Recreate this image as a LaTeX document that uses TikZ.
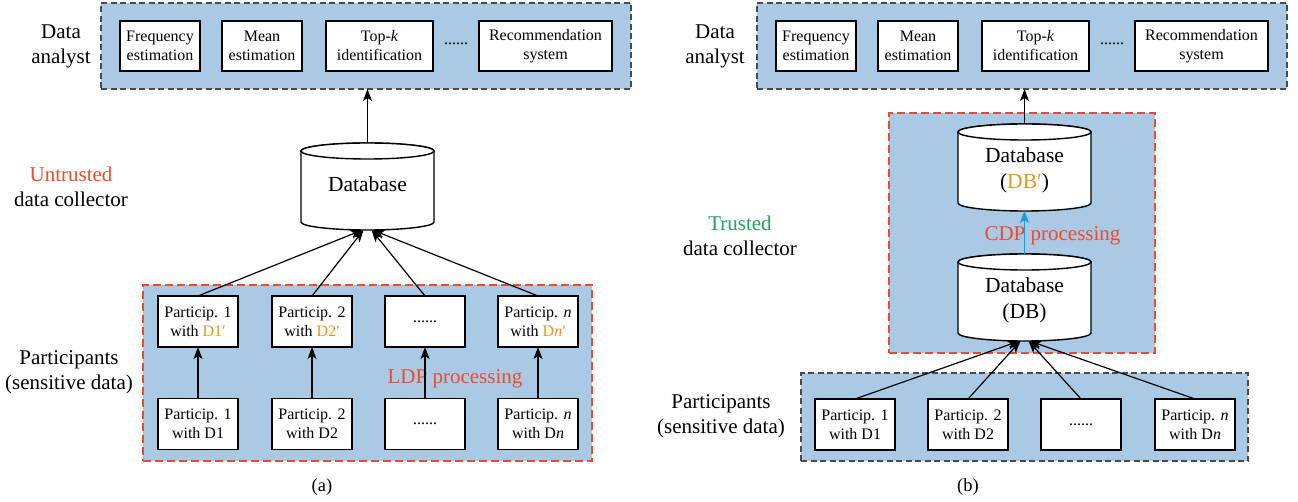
\documentclass[tikz,border=0pt]{standalone}
\usepackage{fontspec}
\setmainfont{Liberation Serif}
\usetikzlibrary{arrows.meta,calc}

\definecolor{panelblue}{HTML}{A9C9E4}
\definecolor{framered}{HTML}{F04A2E}
\definecolor{framegray}{HTML}{4A4A4A}
\definecolor{primegold}{HTML}{DE9A22}
\definecolor{trustgreen}{HTML}{1FA552}
\definecolor{cdpblue}{HTML}{1E9AD6}

\newcommand{\boxfont}{\fontsize{16}{19}\selectfont}
\newcommand{\labfont}{\fontsize{21}{25}\selectfont}

\begin{document}
\begin{tikzpicture}[x=1pt,y=-1pt,
  box/.style={draw=black, fill=white, line width=1.4pt, align=center,
    font=\boxfont, inner sep=0pt, outer sep=0pt},
  grayframe/.style={draw=framegray, fill=panelblue, line width=1.5pt,
    dash pattern=on 6pt off 3.5pt, inner sep=0pt, outer sep=0pt},
  redframe/.style={draw=framered, fill=panelblue, line width=2.8pt,
    dash pattern=on 8pt off 4pt, inner sep=0pt, outer sep=0pt},
  lbl/.style={align=center, font=\labfont, inner sep=0pt},
  dblbl/.style={align=center, font=\fontsize{21.5}{26}\selectfont, inner sep=0pt},
  arr/.style={-{Stealth[length=12pt,width=9pt,inset=3pt]}, line width=1.2pt},
  cyl/.style={draw=black, fill=white, line width=1.4pt},
  anchorbox/.style={inner sep=0pt, outer sep=0pt, minimum width=133pt, minimum height=87pt}
]
\useasboundingbox (0,0) rectangle (1298,502);

% ---------------- (a) local differential privacy ----------------
\node[grayframe, minimum width=530pt, minimum height=86pt] (anaA) at (366,46) {};
\node[lbl] (labAnaA) at (61,46) {Data\\analyst};
\node[box, minimum width=80pt, minimum height=50pt] (freqA) at (160,46) {Frequency\\estimation};
\node[box, minimum width=80pt, minimum height=50pt] (meanA) at (262,46) {Mean\\estimation};
\node[box, minimum width=107pt, minimum height=50pt] (topkA) at (379.5,46) {Top-\textit{k}\\identification};
\node[font=\boxfont] (dotsA) at (456,44) {......};
\node[box, minimum width=133pt, minimum height=50pt] (recA) at (545.5,46) {Recommendation\\system};

% database of the untrusted collector
\node[anchorbox] (dbA) at (367.5,186.5) {};
\path[cyl] (301,151) -- (301,222)
  arc[start angle=180, end angle=0, x radius=66.5, y radius=8] -- (434,151)
  arc[start angle=0, end angle=-180, x radius=66.5, y radius=8] -- cycle;
\draw[cyl] (367.5,151) ellipse[x radius=66.5, y radius=8];
\node[dblbl] (dbAtext) at (367.5,184) {Database};
\draw[arr] (dbA.north) -- (dbA.north |- anaA.south);

\node[lbl] (labColA) at (71,186.5) {\textcolor{framered}{Untrusted}\\data collector};

\node[redframe, minimum width=449pt, minimum height=176pt] (ldpA) at (367.5,373) {};
\node[lbl] (labPartA) at (69,372) {Participants\\(sensitive data)};

\node[box, minimum width=80pt, minimum height=51pt] (pA1) at (198,321.5) {Particip. 1\\with \textcolor{primegold}{D1′}};
\node[box, minimum width=80pt, minimum height=51pt] (pA2) at (312,321.5) {Particip. 2\\with \textcolor{primegold}{D2′}};
\node[box, minimum width=80pt, minimum height=51pt] (pA3) at (425,321.5) {......};
\node[box, minimum width=80pt, minimum height=51pt] (pA4) at (538,321.5) {Particip. \textit{n}\\with \textcolor{primegold}{D\textit{n}′}};

\node[box, minimum width=80pt, minimum height=51pt] (qA1) at (198,424) {Particip. 1\\with D1};
\node[box, minimum width=80pt, minimum height=51pt] (qA2) at (312,424) {Particip. 2\\with D2};
\node[box, minimum width=80pt, minimum height=51pt] (qA3) at (425,424) {......};
\node[box, minimum width=80pt, minimum height=51pt] (qA4) at (538,424) {Particip. \textit{n}\\with D\textit{n}};

\node[lbl, text=framered] (ldpText) at (455,379) {LDP processing};

\foreach \i in {1,...,4} {
  \draw[arr] (qA\i.north) -- (pA\i.south);
}
\draw[arr] (pA1.north) -- ($(dbA.south)+(-5,0)$);
\draw[arr] (pA2.north) -- ($(dbA.south)+(-4,0)$);
\draw[arr] (pA3.north) -- ($(dbA.south)+(4,0)$);
\draw[arr] (pA4.north) -- ($(dbA.south)+(5,0)$);

\node[font=\fontsize{18.5}{22}\selectfont] (capA) at (322,487) {(a)};

% ---------------- (b) centralized differential privacy ----------------
\node[grayframe, minimum width=530pt, minimum height=86pt] (anaB) at (1022,46) {};
\node[lbl] (labAnaB) at (715,46) {Data\\analyst};
\node[box, minimum width=80pt, minimum height=50pt] (freqB) at (816,46) {Frequency\\estimation};
\node[box, minimum width=80pt, minimum height=50pt] (meanB) at (918,46) {Mean\\estimation};
\node[box, minimum width=107pt, minimum height=50pt] (topkB) at (1035.5,46) {Top-\textit{k}\\identification};
\node[font=\boxfont] (dotsB) at (1112,44) {......};
\node[box, minimum width=133pt, minimum height=50pt] (recB) at (1201.5,46) {Recommendation\\system};

\node[redframe, minimum width=266pt, minimum height=240pt] (cdpB) at (1022,233) {};
\node[lbl] (labColB) at (740,236) {\textcolor{trustgreen}{Trusted}\\data collector};

% perturbed database
\node[anchorbox] (dbpB) at (1024.5,167.5) {};
\path[cyl] (958,132) -- (958,203)
  arc[start angle=180, end angle=0, x radius=66.5, y radius=8] -- (1091,132)
  arc[start angle=0, end angle=-180, x radius=66.5, y radius=8] -- cycle;
\draw[cyl] (1024.5,132) ellipse[x radius=66.5, y radius=8];
\node[dblbl] (dbpBtext) at (1024.5,170) {Database\\(\textcolor{primegold}{DB′})};

% raw database
\node[anchorbox] (dbB) at (1024.5,297.5) {};
\path[cyl] (958,262) -- (958,333)
  arc[start angle=180, end angle=0, x radius=66.5, y radius=8] -- (1091,262)
  arc[start angle=0, end angle=-180, x radius=66.5, y radius=8] -- cycle;
\draw[cyl] (1024.5,262) ellipse[x radius=66.5, y radius=8];
\node[dblbl] (dbBtext) at (1024.5,300.5) {Database\\(DB)};

\draw[arr, draw=cdpblue, fill=cdpblue] (dbB.north) -- (dbpB.south);
\node[lbl, text=framered] (cdpText) at (1052.5,236) {CDP processing};
\draw[arr] (dbpB.north) -- (dbpB.north |- anaB.south);

\node[grayframe, minimum width=447pt, minimum height=88pt] (partB) at (1024.5,417) {};
\node[lbl] (labPartB) at (721,416.5) {Participants\\(sensitive data)};

\node[box, minimum width=80pt, minimum height=51pt] (qB1) at (855,424.5) {Particip. 1\\with D1};
\node[box, minimum width=80pt, minimum height=51pt] (qB2) at (968,424.5) {Particip. 2\\with D2};
\node[box, minimum width=80pt, minimum height=51pt] (qB3) at (1081,424.5) {......};
\node[box, minimum width=80pt, minimum height=51pt] (qB4) at (1195,424.5) {Particip. \textit{n}\\with D\textit{n}};

\draw[arr] (qB1.north) -- ($(dbB.south)+(-5,0)$);
\draw[arr] (qB2.north) -- ($(dbB.south)+(-4,0)$);
\draw[arr] (qB3.north) -- ($(dbB.south)+(4,0)$);
\draw[arr] (qB4.north) -- ($(dbB.south)+(5,0)$);

\node[font=\fontsize{18.5}{22}\selectfont] (capB) at (968,487) {(b)};
\end{tikzpicture}
\end{document}
